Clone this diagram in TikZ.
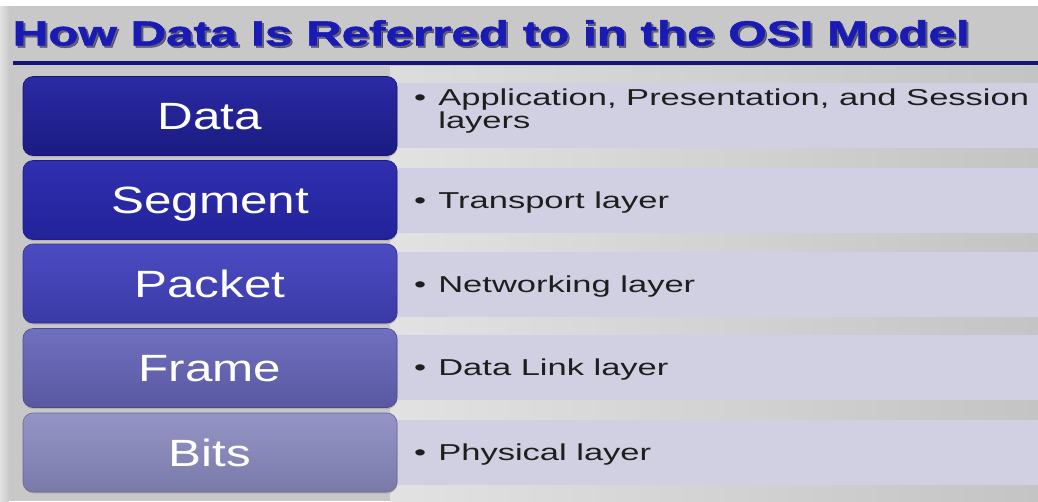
\documentclass[tikz,border=0pt]{standalone}
\usepackage{fontspec}
\setmainfont{Liberation Sans}
\newfontfamily\osititlefont[FakeBold=1.2]{Liberation Sans Bold}
\usetikzlibrary{shadows}
\definecolor{titleblue}{HTML}{1A1AB4}
\definecolor{titleshadow}{HTML}{202048}
\definecolor{navyline}{HTML}{16167A}
\definecolor{panelfill}{HTML}{D0D0E2}
\definecolor{paneltext}{HTML}{1E1E1E}
\definecolor{bgmid}{HTML}{C8C8C8}
\definecolor{gapL}{HTML}{E2E2E2}
\definecolor{gapR}{HTML}{C4C4C4}
\definecolor{dataT}{HTML}{2A2AA4}
\definecolor{dataB}{HTML}{1B1B82}
\definecolor{segT}{HTML}{3030B0}
\definecolor{segB}{HTML}{22229A}
\definecolor{pktT}{HTML}{4C4CC2}
\definecolor{pktB}{HTML}{3A3AA6}
\definecolor{frmT}{HTML}{7070C0}
\definecolor{frmB}{HTML}{5858A2}
\definecolor{bitT}{HTML}{9494C6}
\definecolor{bitB}{HTML}{7A7AAA}
\newcommand\osibul{\makebox[0.7em][l]{•}}
\newcommand\ositext{\scalebox{1.41}[1]{\fontsize{35}{38}\osititlefont How Data Is Referred to in the OSI Model}}
\begin{document}
\begin{tikzpicture}[x=1pt,y=-1pt,
  lbox/.style 2 args={rectangle, rounded corners=10pt, minimum width=374pt,
    minimum height=79pt, inner sep=0pt, text height=27.2pt, text depth=0pt,
    text=white, font=\fontsize{38}{40}\selectfont,
    top color=#1, bottom color=#2, draw=#2!85!black, line width=0.6pt,
    drop shadow={opacity=0.3, shadow xshift=0.5pt, shadow yshift=-1.5pt}},
  panel/.style={rectangle, fill=panelfill, draw=none, minimum width=650pt,
    minimum height=65pt, inner sep=0pt},
  ptext/.style={anchor=base west, inner sep=0pt, text=paneltext,
    font=\fontsize{23}{22}\selectfont}
]
\useasboundingbox (0,0) rectangle (1038,501);
% background
\fill[bgmid] (0,0) rectangle (1038,501);
\fill[white] (0,0) rectangle (1038,6);
\shade[left color=gapL, right color=gapR] (390,66) rectangle (1038,501);
\shade[left color=gapL!80!bgmid, right color=gapR] (390,66) rectangle (1038,84);
\shade[left color=gapL, right color=bgmid] (0,6) rectangle (9,501);

% title
\node[anchor=base west, inner sep=0pt, text=titleshadow, opacity=0.6] (titleshad) at (14.5,47.5) {\ositext};
\node[anchor=base west, inner sep=0pt, text=titleblue] (title) at (12.5,45.5) {\ositext};
\coordinate (lineL) at (13,63);
\coordinate (lineR) at (1038,63);
\draw[navyline, line width=4pt] (lineL) -- (lineR);

% panels
\node[panel] (pData) at (715,115.5) {};
\node[panel] (pSeg)  at (715,200) {};
\node[panel] (pPkt)  at (715,284.5) {};
\node[panel] (pFrm)  at (715,367.5) {};
\node[panel] (pBit)  at (715,452) {};

% boxes
\node[lbox={dataT}{dataB}] (bData) at (210,116) {\scalebox{1.3}[1]{Data}};
\node[lbox={segT}{segB}]   (bSeg)  at (210,200) {\scalebox{1.3}[1]{Segment}};
\node[lbox={pktT}{pktB}]   (bPkt)  at (210,283.5) {\scalebox{1.3}[1]{Packet}};
\node[lbox={frmT}{frmB}]   (bFrm)  at (210,368) {\scalebox{1.3}[1]{Frame}};
\node[lbox={bitT}{bitB}]   (bBit)  at (210,452.5) {\scalebox{1.3}[1]{Bits}};

% panel texts
\node[ptext] (tData) at (414,105.5) {\scalebox{1.5}[1]{\begin{tabular}[t]{@{}l@{}}\osibul Application, Presentation, and Session\\ \hphantom{\osibul}layers\end{tabular}}};
\node[ptext] (tSeg) at (414,208.2) {\scalebox{1.5}[1]{\osibul Transport layer}};
\node[ptext] (tPkt) at (414,292.7) {\scalebox{1.5}[1]{\osibul Networking layer}};
\node[ptext] (tFrm) at (414,375.7) {\scalebox{1.5}[1]{\osibul Data Link layer}};
\node[ptext] (tBit) at (414,460.2) {\scalebox{1.5}[1]{\osibul Physical layer}};
\end{tikzpicture}
\end{document}
